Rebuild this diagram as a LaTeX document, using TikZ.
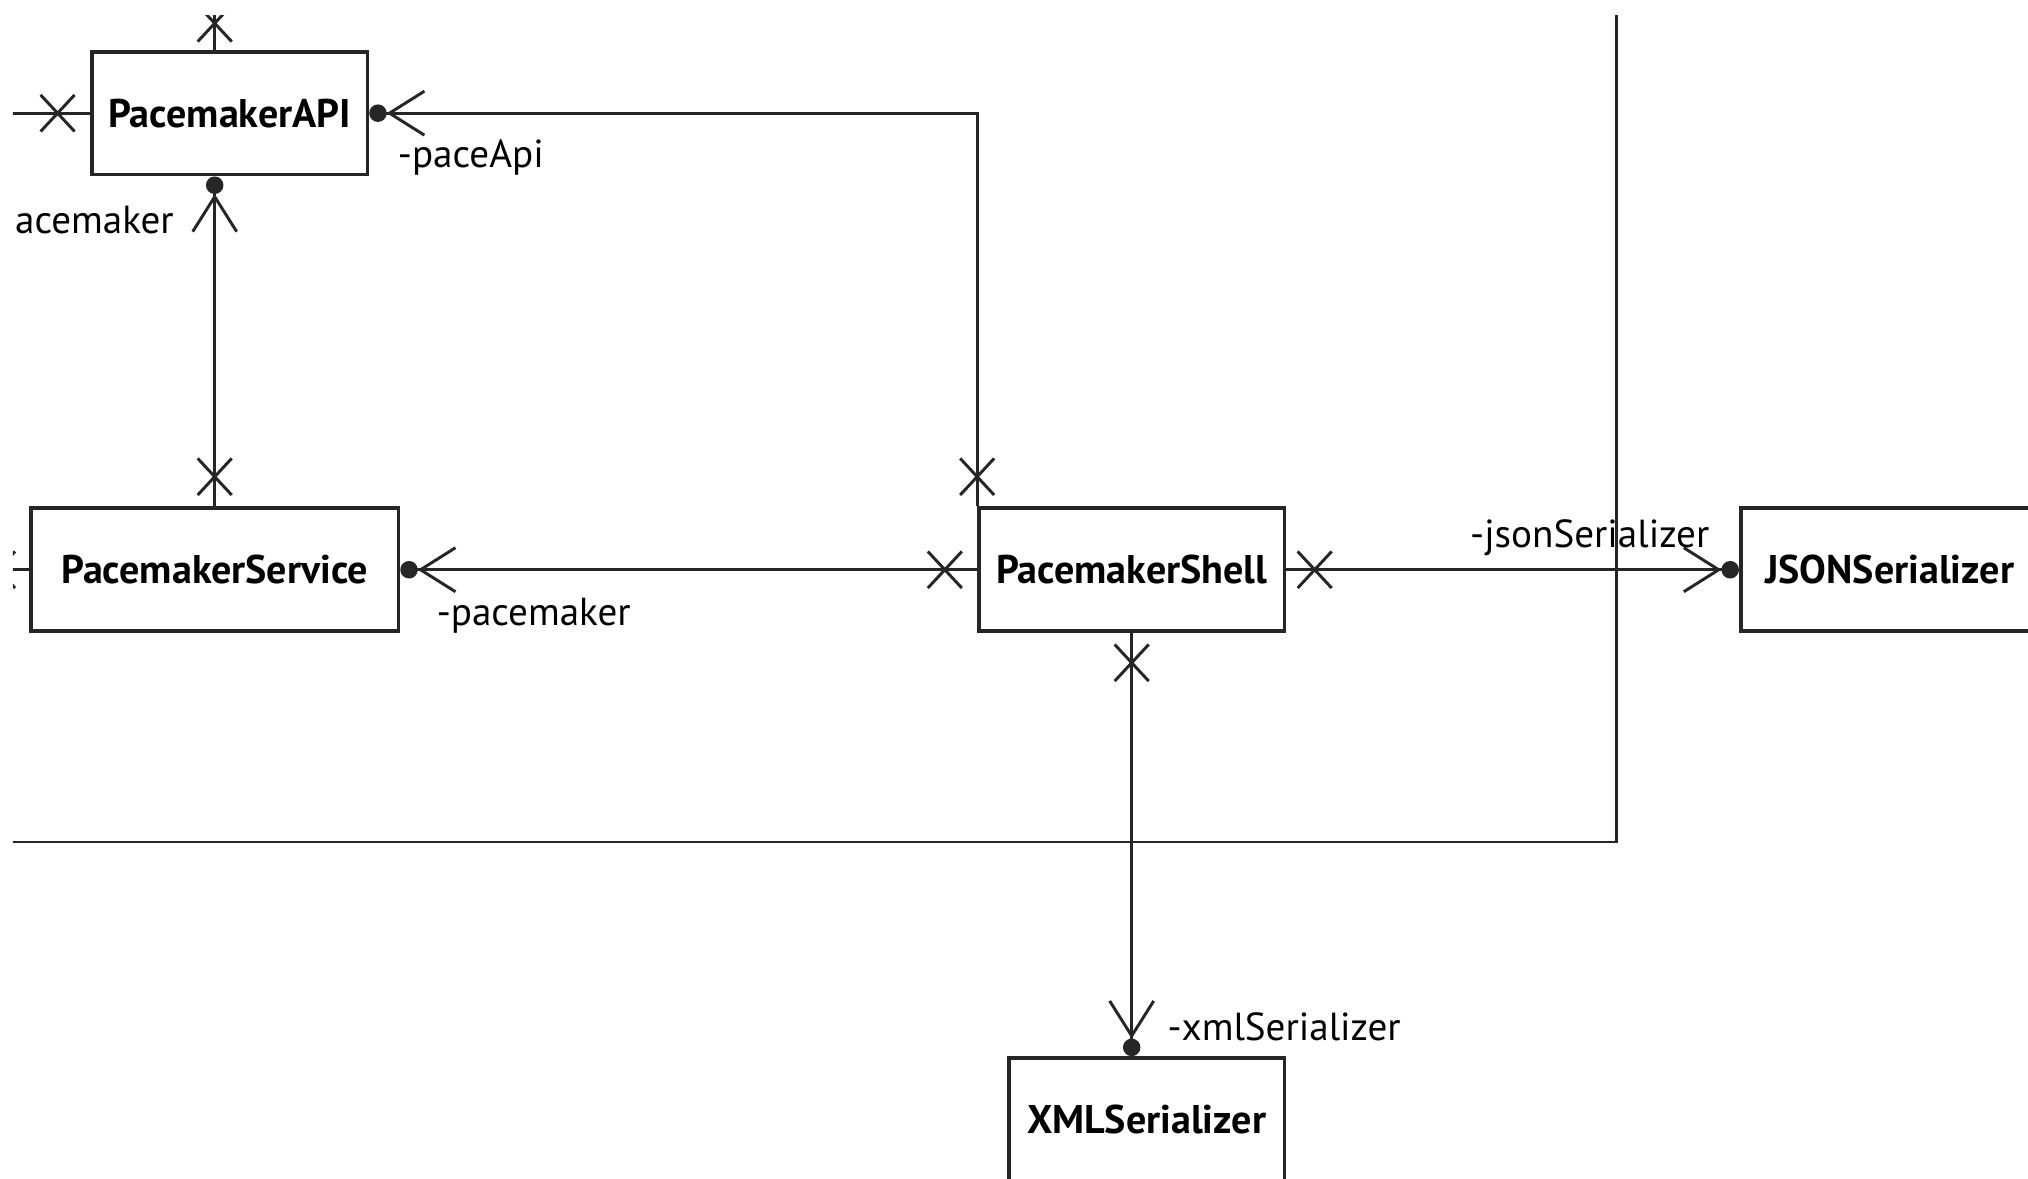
\documentclass[tikz,border=0pt]{standalone}
\usepackage{fontspec}
\setmainfont{PT Sans}
\usetikzlibrary{arrows.meta, positioning, calc, shapes.misc}

\begin{document}
\begin{tikzpicture}[x=0.01cm, y=0.01cm,
        box/.style={draw=black!85, line width=0.8pt, minimum height=0.95cm, inner sep=0pt, font=\fontsize{8.8}{11}\selectfont\bfseries},
        link/.style={draw=black!85, line width=0.65pt},
        assoc/.style={link, -{Straight Barb[length=0.27cm, width=0.34cm, line width=0.65pt, sep=0pt] Circle[length=0.135cm, sep=0pt]}},
        xmark/.style={draw=black!85, cross out, line width=0.65pt, minimum width=0.24cm, minimum height=0.26cm, inner sep=0pt},
        role/.style={anchor=west, inner sep=0pt, font=\fontsize{8.6}{11}\selectfont}]
        \useasboundingbox (0,0) rectangle (1568,-911);
        \clip (10,-12) rectangle (1568,-911);

        \node (api) at (177.5,-87.5)[box, minimum width=2.13cm] {PacemakerAPI};
        \node (service) at (166,-440.5)[box, minimum width=2.84cm] {PacemakerService};
        \node (shell) at (875,-440.5)[box, minimum width=2.36cm] {PacemakerShell};
        \node (json) at (1461,-440.5)[box, minimum width=2.30cm] {JSONSerializer};
        \node (xml) at (886.5,-865.5)[box, minimum width=2.13cm] {XMLSerializer};

        % loose ends leaving the picture
        \coordinate (apiTop) at (166,0);
        \coordinate (apiLeft) at (0,-87.5);
        \coordinate (serviceLeft) at (0,-440.5);
        \coordinate (loopLeft) at (0,-651);
        \coordinate (loopTop) at (1250,0);

        \draw[link] (api.north -| apiTop) -- (apiTop);
        \draw[link] (apiLeft) -- (api.west);
        \draw[link] (serviceLeft) -- (service.west);
        \draw[link] (loopLeft) -| (loopTop);

        \draw[assoc] (service.north) -- (service.north |- api.south);
        \draw[assoc] (shell.north west) |- (api.east);
        \draw[assoc] (shell.west) -- (service.east);
        \draw[assoc] (shell.east) -- (json.west);
        \draw[assoc] (shell.south) -- (shell.south |- xml.north);

        \node (apiTopX) at (166,-18)[xmark] {};
        \node (apiLeftX) at ($(api.west)+(-25,0)$)[xmark] {};
        \node (serviceLeftX) at ($(service.west)+(-24,0)$)[xmark] {};
        \node (serviceTopX) at ($(service.north)+(0,23)$)[xmark] {};
        \node (shellTopX) at ($(shell.north west)+(0,23)$)[xmark] {};
        \node (shellLeftX) at ($(shell.west)+(-25,0)$)[xmark] {};
        \node (shellRightX) at ($(shell.east)+(22,0)$)[xmark] {};
        \node (shellBottomX) at ($(shell.south)+(0,-23)$)[xmark] {};

        \node (paceApiRole) at (307,-122)[role] {-paceApi};
        \node (pacemakerCut) at (11,-170)[role] {acemaker};
        \node (pacemakerRole) at (337,-476)[role] {-pacemaker};
        \node (jsonRole) at (1136,-416)[role] {-jsonSerializer};
        \node (xmlRole) at (902,-794)[role] {-xmlSerializer};
\end{tikzpicture}
\end{document}
